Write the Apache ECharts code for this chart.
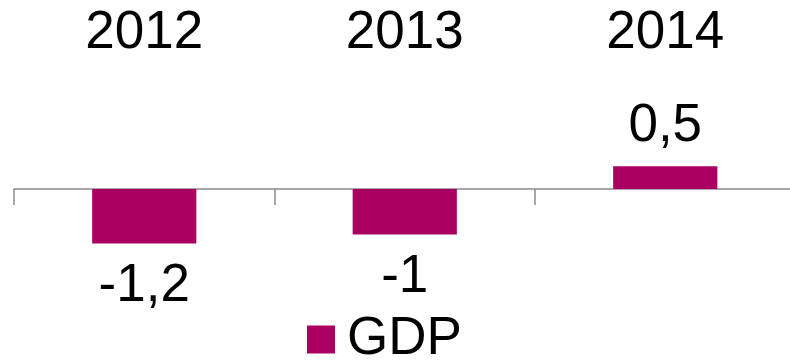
<!DOCTYPE html>
<html>
<head>
<meta charset="utf-8">
<style>
  html, body { margin: 0; padding: 0; background: #ffffff; }
  #chart { width: 790px; height: 360px; }
</style>
<script src="https://cdn.jsdelivr.net/npm/echarts@6/dist/echarts.min.js"></script>
</head>
<body>
<div id="chart"></div>
<script>
// Real GDP growth, percent
const years = ['2012', '2013', '2014'];
const gdpValues = [-1.2, -1, 0.5];
const seriesName = 'GDP';

const barColor = '#AA0061';
const axisGray = '#8c8c8c';
const font = '"Liberation Sans", Arial, sans-serif';

// decimal comma, as in the printed labels
const fmt = v => String(v).replace('.', ',');

const chart = echarts.init(document.getElementById('chart'), null, { renderer: 'canvas' });
chart.setOption({
  animation: false,
  backgroundColor: '#ffffff',
  textStyle: { fontFamily: font },
  // plot area runs a little past the right edge, so the last category is cut off
  grid: { left: 14, width: 781.5, top: 143.5, height: 136.5, outerBoundsMode: 'none', containLabel: false },
  legend: {
    data: [seriesName],
    left: 307,
    top: 313,
    padding: 0,
    itemWidth: 28,
    itemHeight: 28,
    itemGap: 10,
    icon: 'rect',
    textStyle: { fontSize: 53, color: '#000000', fontFamily: font, padding: [0, 0, 0, 7] }
  },
  xAxis: [
    {
      // year labels across the top
      type: 'category',
      data: years,
      position: 'top',
      axisLine: { show: false, onZero: false },
      axisTick: { show: false },
      axisLabel: { fontSize: 53, color: '#000000', fontFamily: font, margin: 84 },
      splitLine: { show: false }
    },
    {
      // zero baseline with category boundary ticks
      type: 'category',
      data: years,
      position: 'bottom',
      axisLine: { show: true, onZero: true, lineStyle: { color: axisGray, width: 1.5 } },
      axisTick: { show: true, length: 16, lineStyle: { color: axisGray, width: 1.5 } },
      axisLabel: { show: false },
      splitLine: { show: false }
    }
  ],
  yAxis: {
    type: 'value',
    min: -2,
    max: 1,
    show: false,
    splitLine: { show: false }
  },
  series: [
    {
      name: seriesName,
      type: 'bar',
      xAxisIndex: 0,
      data: gdpValues.map(v => ({
        value: v,
        label: { position: v < 0 ? 'bottom' : 'top', distance: v < 0 ? 16 : 13 }
      })),
      barWidth: '40%',
      itemStyle: { color: barColor },
      label: {
        show: true,
        fontSize: 53,
        color: '#000000',
        fontFamily: font,
        formatter: p => fmt(p.value)
      }
    }
  ]
});
</script>
</body>
</html>
